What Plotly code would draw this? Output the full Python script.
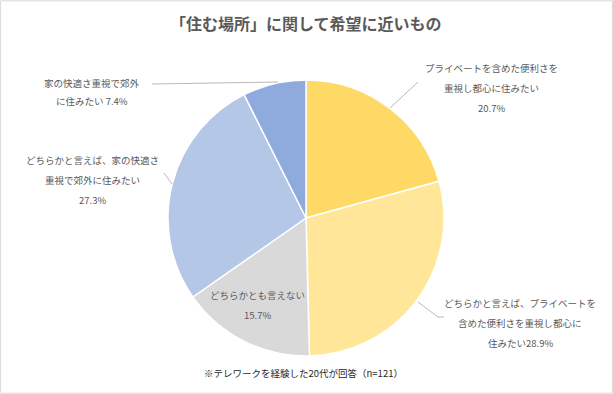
import plotly.graph_objects as go

categories = [
    "プライベートを含めた便利さを重視し都心に住みたい",
    "どちらかと言えば、プライベートを含めた便利さを重視し都心に住みたい",
    "どちらかとも言えない",
    "どちらかと言えば、家の快適さ重視で郊外に住みたい",
    "家の快適さ重視で郊外に住みたい",
]
values = [20.7, 28.9, 15.7, 27.3, 7.4]
colors = ["#FFD966", "#FFE699", "#D9D9D9", "#B4C7E7", "#8FAADC"]

label_lines = [
    ["プライベートを含めた便利さを", "重視し都心に住みたい", "20.7%"],
    ["どちらかと言えば、プライベートを", "含めた便利さを重視し都心に", "住みたい28.9%"],
    ["どちらかとも言えない", "15.7%"],
    ["どちらかと言えば、家の快適さ", "重視で郊外に住みたい", "27.3%"],
    ["家の快適さ重視で郊外", "に住みたい 7.4%"],
]
# label centre (px) and first-line y (px), line spacing in px
label_pos = [(491, 68), (520, 303), (257, 295), (92, 160), (92, 83)]
line_gap = [20, 20, 20, 20, 18]
leaders = [
    [(390, 108), (418, 82)],
    [(418, 302), (438, 317), (444, 317)],
    None,
    [(164, 173), (172, 184)],
    [(152, 84), (278, 82)],
]

title = "「住む場所」に関して希望に近いもの"
footnote = "※テレワークを経験した20代が回答（n=121）"

W, H = 613, 394
FONT = "Noto Sans CJK JP"
GRAY = "#595959"

def px(x):
    return x / W

def py(y):
    return 1 - y / H

cx, cy, r = 306, 218, 138

fig = go.Figure(go.Pie(
    labels=categories,
    values=values,
    sort=False,
    direction="clockwise",
    rotation=0,
    marker=dict(colors=colors, line=dict(color="white", width=1.5)),
    textinfo="none",
    hoverinfo="label+percent",
    domain=dict(x=[px(cx - r), px(cx + r)], y=[py(cy + r), py(cy - r)]),
    showlegend=False,
))

annotations = []
for lines, (x, y0), gap in zip(label_lines, label_pos, line_gap):
    for i, t in enumerate(lines):
        annotations.append(dict(
            x=px(x), y=py(y0 + i * gap), xref="paper", yref="paper",
            text=t, showarrow=False, xanchor="center", yanchor="middle",
            font=dict(family=FONT, size=9.5, color=GRAY),
        ))
annotations.append(dict(
    x=px(306), y=py(23), xref="paper", yref="paper", text="<b>" + title + "</b>",
    showarrow=False, xanchor="center", yanchor="middle",
    font=dict(family=FONT, size=16, color=GRAY),
))
annotations.append(dict(
    x=px(303), y=py(373), xref="paper", yref="paper", text=footnote,
    showarrow=False, xanchor="center", yanchor="middle",
    font=dict(family=FONT, size=9.5, color="#262626"),
))

shapes = []
for pts in leaders:
    if not pts:
        continue
    path = "M " + " L ".join(f"{px(x)},{py(y)}" for x, y in pts)
    shapes.append(dict(type="path", xref="paper", yref="paper", path=path,
                       line=dict(color="#A6A6A6", width=0.8)))
shapes.append(dict(type="rect", xref="paper", yref="paper", x0=0.001, y0=0.002,
                   x1=0.999, y1=0.998, line=dict(color="#D9D9D9", width=1)))

fig.update_layout(
    width=W, height=H,
    margin=dict(l=0, r=0, t=0, b=0),
    paper_bgcolor="white",
    plot_bgcolor="white",
    annotations=annotations,
    shapes=shapes,
)

fig.write_html(
    "out.html",
    config={"displayModeBar": False},
    post_script="document.body.style.margin='0';document.body.style.overflow='hidden';",
)
